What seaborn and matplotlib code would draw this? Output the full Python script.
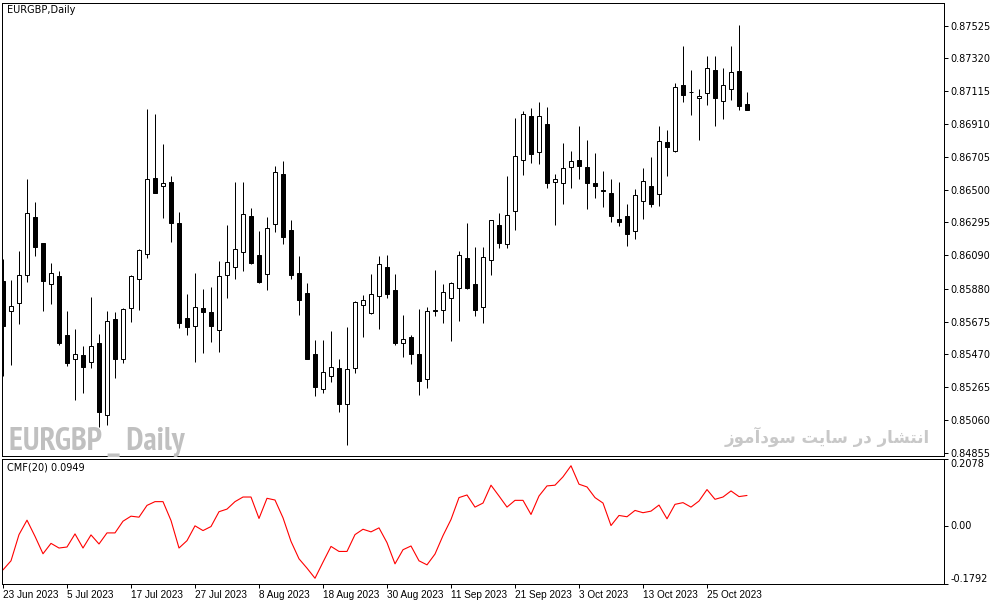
import numpy as np
import pandas as pd
import matplotlib
matplotlib.use("Agg")
import matplotlib.pyplot as plt
from matplotlib import font_manager as fm
import seaborn as sns

sns.set_style("white")
plt.rcParams['font.family'] = ['DejaVu Sans']

# ---------------- data ----------------
opens = [0.85927, 0.85740, 0.85790, 0.85965, 0.86328, 0.86165, 0.85909, 0.85959, 0.85590, 0.85440,
         0.85465, 0.85421, 0.85540, 0.85090, 0.85690, 0.85440, 0.85759, 0.85940, 0.86096, 0.86572,
         0.86521, 0.86546, 0.86290, 0.85696, 0.85646, 0.85759, 0.85734, 0.85621, 0.85965, 0.86015,
         0.86109, 0.86334, 0.86090, 0.85971, 0.86284, 0.86597, 0.86246, 0.85977, 0.85852, 0.85471,
         0.85252, 0.85333, 0.85383, 0.85158, 0.85383, 0.85777, 0.85727, 0.85834, 0.86015, 0.85871,
         0.85540, 0.85577, 0.85471, 0.85315, 0.85746, 0.85746, 0.85821, 0.85884, 0.86071, 0.85909,
         0.85765, 0.86059, 0.86278, 0.86159, 0.86365, 0.86684, 0.86959, 0.86734, 0.86909, 0.86546,
         0.86540, 0.86640, 0.86684, 0.86640, 0.86540, 0.86496, 0.86478, 0.86315, 0.86334, 0.86240,
         0.86428, 0.86521, 0.86471, 0.86797, 0.86740, 0.87153, 0.87109, 0.87072, 0.87103, 0.87247,
         0.87053, 0.87128, 0.87241, 0.87034]
highs = [0.86065, 0.85934, 0.86115, 0.86565, 0.86421, 0.86165, 0.86040, 0.85990, 0.85740, 0.85627,
         0.85521, 0.85827, 0.85596, 0.85740, 0.85734, 0.85759, 0.85965, 0.86128, 0.87003, 0.86972,
         0.86784, 0.86584, 0.86359, 0.85846, 0.85977, 0.85877, 0.85890, 0.86052, 0.86278, 0.86546,
         0.86546, 0.86384, 0.86240, 0.86328, 0.86647, 0.86678, 0.86309, 0.86084, 0.85915, 0.85559,
         0.85559, 0.85615, 0.85440, 0.85640, 0.85802, 0.85840, 0.85971, 0.86084, 0.86090, 0.85971,
         0.85715, 0.85590, 0.85752, 0.85765, 0.85996, 0.85909, 0.85921, 0.86115, 0.86290, 0.86140,
         0.86140, 0.86309, 0.86353, 0.86584, 0.86947, 0.86990, 0.87009, 0.87047, 0.87015, 0.86597,
         0.86790, 0.86740, 0.86897, 0.86809, 0.86728, 0.86615, 0.86565, 0.86546, 0.86409, 0.86503,
         0.86634, 0.86703, 0.86897, 0.86872, 0.87166, 0.87397, 0.87247, 0.87128, 0.87334, 0.87334,
         0.87259, 0.87397, 0.87528, 0.87109]
lows = [0.85335, 0.85402, 0.85659, 0.85921, 0.86084, 0.85740, 0.85784, 0.85527, 0.85396, 0.85183,
        0.85227, 0.85383, 0.85015, 0.85027, 0.85321, 0.85415, 0.85671, 0.85746, 0.86071, 0.86478,
        0.86321, 0.86171, 0.85634, 0.85590, 0.85421, 0.85477, 0.85546, 0.85483, 0.85821, 0.85940,
        0.85990, 0.86034, 0.85915, 0.85871, 0.86234, 0.86159, 0.85940, 0.85715, 0.85440, 0.85208,
        0.85227, 0.85296, 0.85108, 0.84902, 0.85352, 0.85577, 0.85721, 0.85627, 0.85821, 0.85527,
        0.85452, 0.85408, 0.85215, 0.85258, 0.85709, 0.85665, 0.85552, 0.85677, 0.85877, 0.85709,
        0.85665, 0.85965, 0.86134, 0.86134, 0.86246, 0.86590, 0.86665, 0.86659, 0.86509, 0.86278,
        0.86409, 0.86509, 0.86565, 0.86378, 0.86446, 0.86390, 0.86296, 0.86271, 0.86146, 0.86190,
        0.86315, 0.86390, 0.86396, 0.86584, 0.86734, 0.87047, 0.86965, 0.86809, 0.87028, 0.86897,
        0.86940, 0.87059, 0.86997, 0.86997]
closes = [0.85648, 0.85771, 0.85965, 0.86353, 0.86140, 0.85927, 0.85977, 0.85540, 0.85415, 0.85471,
          0.85390, 0.85521, 0.85108, 0.85677, 0.85440, 0.85752, 0.85959, 0.86121, 0.86565, 0.86478,
          0.86540, 0.86290, 0.85665, 0.85640, 0.85765, 0.85734, 0.85646, 0.85959, 0.86046, 0.86128,
          0.86346, 0.86040, 0.85921, 0.86259, 0.86609, 0.86203, 0.85965, 0.85809, 0.85440, 0.85265,
          0.85358, 0.85390, 0.85158, 0.85377, 0.85796, 0.85809, 0.85846, 0.86034, 0.85846, 0.85540,
          0.85565, 0.85471, 0.85302, 0.85740, 0.85740, 0.85859, 0.85915, 0.86090, 0.85884, 0.85746,
          0.86078, 0.86309, 0.86165, 0.86340, 0.86709, 0.86972, 0.86722, 0.86959, 0.86540, 0.86565,
          0.86634, 0.86678, 0.86647, 0.86540, 0.86521, 0.86490, 0.86334, 0.86296, 0.86221, 0.86465,
          0.86553, 0.86409, 0.86803, 0.86765, 0.87141, 0.87091, 0.87109, 0.87084, 0.87259, 0.87072,
          0.87153, 0.87234, 0.87022, 0.86997]
cmf = [-0.1355, -0.1074, -0.0263, 0.0184, -0.0316, -0.0856, -0.0534, -0.0678, -0.0647, -0.0241,
       -0.0678, -0.0272, -0.0553, -0.0210, -0.0210, 0.0152, 0.0308, 0.0277, 0.0642, 0.0758,
       0.0758, 0.0174, -0.0678, -0.0450, 0.0009, -0.0138, -0.0013, 0.0446, 0.0527, 0.0758,
       0.0901, 0.0901, 0.0237, 0.0861, 0.0808, 0.0258, -0.0472, -0.1012, -0.1302, -0.1614,
       -0.1115, -0.0628, -0.0784, -0.0784, -0.0263, -0.0097, -0.0178, -0.0054, -0.0512, -0.1168,
       -0.0731, -0.0615, -0.1074, -0.1199, -0.0865, -0.0294, 0.0205, 0.0883, 0.0964, 0.0589,
       0.0714, 0.1267, 0.0933, 0.0589, 0.0798, 0.0798, 0.0361, 0.0933, 0.1245, 0.1267,
       0.1526, 0.1869, 0.1298, 0.1213, 0.0883, 0.0714, 0.0018, 0.0330, 0.0290, 0.0486,
       0.0415, 0.0464, 0.0652, 0.0227, 0.0674, 0.0727, 0.0589, 0.0777, 0.1132, 0.0830,
       0.0901, 0.1089, 0.0914, 0.0949]
start_date = "2023-06-23"
price_ticks = [0.87525, 0.87320, 0.87115, 0.86910, 0.86705, 0.86500, 0.86295,
               0.86090, 0.85880, 0.85675, 0.85470, 0.85265, 0.85060, 0.84855]
price_tick_labels = ["0.87525", "0.87320", "0.87115", "0.86910", "0.86705", "0.86500", "0.86295",
                     "0.86090", "0.85880", "0.85675", "0.85470", "0.85265", "0.85060", "0.84855"]
cmf_ticks = [0.2078, 0.0, -0.1792]
cmf_tick_labels = ["0.2078", "0.00", "-0.1792"]
title_text = "EURGBP,Daily"
cmf_text = "CMF(20) 0.0949"
watermark_text = "EURGBP _ Daily"
# Persian watermark "انتشار در سایت سودآموز" written with Arabic presentation forms
# in display order, because matplotlib does not shape right-to-left text itself.
persian_text = ("\uFEAF\uFEEE\uFEE3\uFE81\uFEA9\uFEEE\uFEB3 "
                "\uFE96\uFBFE\uFE8E\uFEB3 "
                "\uFEAD\uFEA9 "
                "\uFEAD\uFE8E\uFEB8\uFE98\uFEE7\uFE8D")

# ---------------- fonts ----------------
def find_condensed_sans_bold():
    ranked = []
    for f in fm.fontManager.ttflist:
        nm = (f.fname + " " + f.name).lower().replace(" ", "")
        if "serif" in nm or "mono" in nm or "oblique" in nm or "italic" in nm:
            continue
        if "sans" not in nm:
            continue
        if not ("condensed" in nm or "narrow" in nm):
            continue
        bold = "bold" in nm or (isinstance(f.weight, int) and f.weight >= 700) or f.weight == "bold"
        if not bold:
            continue
        score = 0 if "narrow" in nm else 1
        ranked.append((score, f.fname))
    ranked.sort()
    return ranked[0][1] if ranked else None

cond = find_condensed_sans_bold()
if cond:
    wm_kw = dict(fontproperties=fm.FontProperties(fname=cond, size=22))
else:
    wm_kw = dict(fontsize=16, fontweight="bold", family=["DejaVu Sans"])

available = {f.name for f in fm.fontManager.ttflist}
date_family = ["Liberation Sans", "DejaVu Sans"] if "Liberation Sans" in available else ["DejaVu Sans"]

# ---------------- figure ----------------
W, H = 991, 605
fig = plt.figure(figsize=(W / 100, H / 100), dpi=100)
fig.patch.set_facecolor("white")

def rect(x0, y0, x1, y1):
    return [x0 / W, 1 - y1 / H, (x1 - x0) / W, (y1 - y0) / H]

ax = fig.add_axes(rect(2, 3, 944, 455.5))
ax2 = fig.add_axes(rect(2, 459, 944, 584))

n = len(opens)
idx = np.arange(n)
o = np.array(opens); h = np.array(highs); l = np.array(lows); c = np.array(closes)
dates = pd.bdate_range(start_date, periods=n)

px = 0.72  # 1 pixel in points
ax.vlines(idx, l, h, color="black", lw=px, zorder=1)
bear = c < o
bull = ~bear
ax.bar(idx[bull], (c - o)[bull], bottom=o[bull], width=0.5, facecolor="white",
       edgecolor="black", linewidth=px, zorder=2)
ax.bar(idx[bear], (c - o)[bear], bottom=o[bear], width=0.5, facecolor="black",
       edgecolor="black", linewidth=px, zorder=2)

xlim = (-0.125, -0.125 + 942 / 8)
ax.set_xlim(*xlim)
ax.set_ylim(0.84839, 0.87666)
ax.yaxis.tick_right()
ax.set_yticks(price_ticks)
ax.set_yticklabels(price_tick_labels)
ax.set_xticks([])
ax.tick_params(axis="y", direction="out", length=3, width=px, pad=1.5,
               labelsize=7, colors="black", right=True, left=False)

# CMF panel
sns.lineplot(x=idx, y=cmf, ax=ax2, color="red", lw=0.8)
ax2.set_xlim(*xlim)
ax2.set_ylim(-0.1792, 0.2078)
ax2.yaxis.tick_right()
ax2.set_yticks(cmf_ticks)
ax2.set_yticklabels(cmf_tick_labels)
for lab, va in zip(ax2.get_yticklabels(), ["top", "center", "bottom"]):
    lab.set_va(va)
ax2.tick_params(axis="y", direction="out", length=3, width=px, pad=1.5,
                labelsize=7, colors="black", right=True, left=False)
tick_pos = idx[::8]
ax2.set_xticks(tick_pos)
ax2.set_xticklabels([d.strftime("%-d %b %Y") for d in dates[::8]], ha="left",
                    family=date_family)
ax2.tick_params(axis="x", direction="out", length=3, width=px, pad=1.5,
                labelsize=7.2, colors="black", bottom=True)
ax2.set_xlabel(""); ax2.set_ylabel("")

for a in (ax, ax2):
    for s in a.spines.values():
        s.set_visible(True)
        s.set_color("black")
        s.set_linewidth(px)
    a.set_facecolor("white")

# texts
ax.text(5 / 942, 1 - 7 / 452.5, title_text, transform=ax.transAxes, fontsize=7,
        ha="left", va="center", color="black")
ax2.text(5 / 942, 1 - 9 / 125, cmf_text, transform=ax2.transAxes, fontsize=7,
         ha="left", va="center", color="black")
wm = fig.text(9 / W, 1 - 450 / H, watermark_text, color="#c0c0c0",
              ha="left", va="baseline", **wm_kw)
fig.text(930 / W, 1 - 437 / H, persian_text, fontsize=12, fontweight="bold",
         family=["DejaVu Sans"], color="#c8c8c8", ha="right", va="center")

# fit the watermark width to the reference (about 175 px wide)
fig.canvas.draw()
bb = wm.get_window_extent()
if bb.width > 0:
    s = wm.get_fontsize() * 175.0 / bb.width
    wm.set_fontsize(min(max(s, 12), 26))

fig.savefig("out.png", dpi=100, facecolor="white")
